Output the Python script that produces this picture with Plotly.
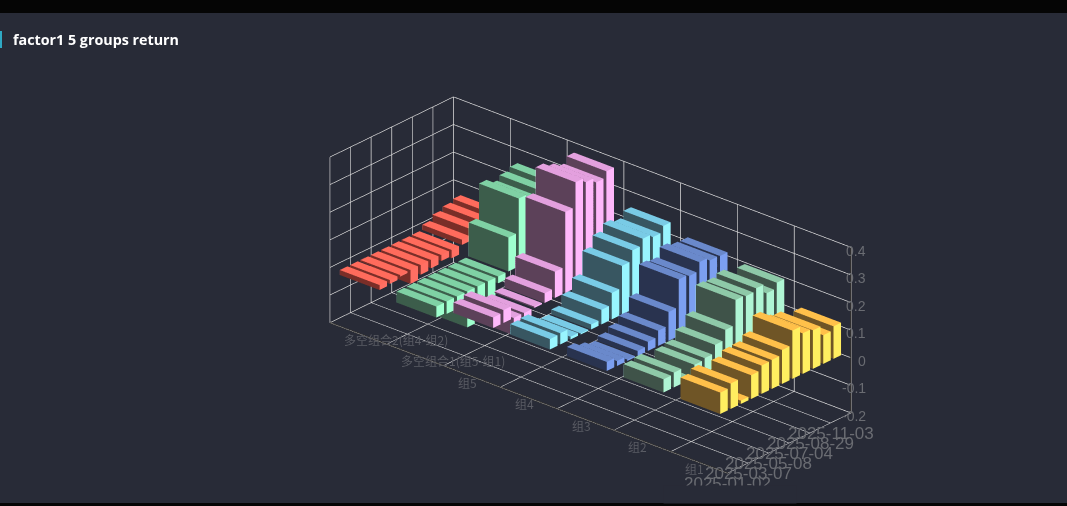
import plotly.graph_objects as go

categories = ["多空组合2(组4-组2)", "多空组合1(组5-组1)", "组5", "组4", "组3", "组2", "组1"]
dates = ["2025-01-02", "2025-02-05", "2025-03-07", "2025-04-08", "2025-05-08", "2025-06-06",
         "2025-07-04", "2025-08-01", "2025-08-29", "2025-09-30", "2025-11-03", "2025-12-01"]
date_labels = ["2025-01-02", "2025-03-07", "2025-05-08", "2025-07-04", "2025-08-29", "2025-11-03"]
z_ticks = [-0.2, -0.1, 0, 0.1, 0.2, 0.3, 0.4]

ls2 = [-0.018, -0.014, -0.006, -0.05, -0.035, -0.03, -0.022, -0.03, 0.019, 0.037, 0.049, 0.058]
ls1 = [-0.04, -0.045, -0.02, -0.13, -0.09, -0.065, -0.025, 0.123, 0.246, 0.225, 0.24, 0.252]
g5 = [0.038, 0.047, -0.02, -0.095, 0.005, 0.035, 0.095, 0.293, 0.383, 0.365, 0.346, 0.368]
g4 = [0.038, 0.041, 0.01, 0.004, 0.018, 0.053, 0.096, 0.176, 0.214, 0.238, 0.226, 0.248]
g3 = [0.033, 0.018, 0.005, 0.018, 0.033, 0.055, 0.105, 0.205, 0.199, 0.231, 0.219, 0.217]
g2 = [0.048, 0.054, 0.008, 0.046, 0.052, 0.082, 0.118, 0.208, 0.204, 0.214, 0.178, 0.198]
g1 = [0.0775, 0.092, 0.012, 0.086, 0.103, 0.105, 0.123, 0.175, 0.147, 0.14, 0.104, 0.118]
series = [ls2, ls1, g5, g4, g3, g2, g1]

# top, large face, side face
palette = [
    ("#FF6B5C", "#7A2E28", "#FF6F63"),
    ("#7FD1A4", "#3C5D4B", "#9FFFCE"),
    ("#E3A0DE", "#5C4159", "#FFB8FB"),
    ("#79CBE6", "#385661", "#98F5FF"),
    ("#6A89CB", "#29334F", "#7C9FF0"),
    ("#8EC9A8", "#3F5349", "#AFF5D4"),
    ("#FFC04A", "#6F5526", "#FFEE60"),
]

BG = "#282B37"
HALF = 0.35
HALF_Y = 0.37
ZOOM = 2.398
X_RANGE = [-0.5, 6.5]
Y_RANGE = [-0.5, 11.5]
Z_RANGE = [-0.2, 0.4]


def bars(i, values, cols):
    xs, ys, zs, a, b, c, fc = [], [], [], [], [], [], []
    top, front, side = cols
    for j, v in enumerate(values):
        n = len(xs)
        z0, z1 = min(0, v), max(0, v)
        for zz in (z0, z1):
            for dx, dy in ((-HALF, -HALF_Y), (HALF, -HALF_Y), (HALF, HALF_Y), (-HALF, HALF_Y)):
                xs.append(i + dx)
                ys.append(j + dy)
                zs.append(zz)
        faces = [
            ((4, 5, 6), top), ((4, 6, 7), top),
            ((0, 1, 2), front), ((0, 2, 3), front),
            ((0, 1, 5), front), ((0, 5, 4), front),
            ((2, 3, 7), front), ((2, 7, 6), front),
            ((1, 2, 6), side), ((1, 6, 5), side),
            ((3, 0, 4), side), ((3, 4, 7), side),
        ]
        for (p, q, r), col in faces:
            a.append(n + p)
            b.append(n + q)
            c.append(n + r)
            fc.append(col)
    return go.Mesh3d(x=xs, y=ys, z=zs, i=a, j=b, k=c, facecolor=fc, flatshading=True,
                     lighting=dict(ambient=1, diffuse=0, specular=0, fresnel=0, roughness=1),
                     hoverinfo="skip", showscale=False)


fig = go.Figure([bars(i, s, palette[i]) for i, s in enumerate(series)])
fig.add_trace(go.Scatter3d(
    x=[X_RANGE[0], X_RANGE[1], X_RANGE[1], X_RANGE[1]],
    y=[Y_RANGE[0], Y_RANGE[0], Y_RANGE[1], Y_RANGE[1]],
    z=[Z_RANGE[0], Z_RANGE[0], Z_RANGE[0], Z_RANGE[1]],
    mode="lines", line=dict(color="#33322F", width=3), hoverinfo="skip"))

annotations3d = []
for i, name in enumerate(categories):
    annotations3d.append(dict(x=i, y=-0.5, z=-0.2, text=name, showarrow=False, xanchor="left",
                              yanchor="middle", xshift=-16, yshift=-6,
                              font=dict(family="Noto Sans CJK SC", size=12, color="#5A5C64")))
for k, label in enumerate(date_labels):
    annotations3d.append(dict(x=6.5, y=dates.index(label), z=-0.2, text=label, showarrow=False,
                              xanchor="center", yanchor="middle", xshift=-5, yshift=-13,
                              font=dict(family="Liberation Sans", size=17, color="#6A6C72")))
for t in z_ticks:
    annotations3d.append(dict(x=6.5, y=11.5, z=t, text=f"{t:g}", showarrow=False, xanchor="right",
                              yanchor="middle", xshift=17, yshift=-3,
                              font=dict(family="Liberation Sans", size=14, color="#6A6C72")))
# the lowest date label is cut off in the reference
annotations3d.append(dict(x=6.5, y=-0.5, z=-0.2, text=" ", showarrow=False, xanchor="center", yanchor="top",
                          xshift=2, yshift=-12, width=130, height=15, bgcolor=BG))


def axis(vals, rng):
    return dict(range=rng, tickmode="array", tickvals=vals, showticklabels=False, ticks="",
                title=dict(text=""), showgrid=True, gridcolor="#DEDEDE", gridwidth=1.5,
                showbackground=False, showline=False,
                zeroline=False, showspikes=False)


fig.update_layout(
    width=1067, height=506, margin=dict(l=0, r=0, t=0, b=0), autosize=False,
    paper_bgcolor=BG, plot_bgcolor=BG, showlegend=False,
    shapes=[
        dict(type="rect", xref="paper", yref="paper", x0=0, x1=1, y0=1 - 13 / 506, y1=1,
             fillcolor="#050505", line_width=0, layer="below"),
        dict(type="rect", xref="paper", yref="paper", x0=0, x1=1, y0=0, y1=3 / 506,
             fillcolor="#050505", line_width=0, layer="below"),
        dict(type="rect", xref="paper", yref="paper", x0=0, x1=2 / 1067, y0=1 - 48 / 506, y1=1 - 31 / 506,
             fillcolor="#2FA9C4", line_width=0, layer="below"),
    ],
    annotations=[dict(xref="paper", yref="paper", x=10.5 / 1067, y=1 - 40 / 506, xanchor="left", yanchor="middle",
                      text="<b>factor1 5 groups return</b>", showarrow=False,
                      font=dict(family="Open Sans", size=14.3, color="#FFFFFF"))],
    scene=dict(
        domain=dict(x=[0.107, 1.0], y=[0.0, 0.873]),
        aspectmode="manual", aspectratio=dict(x=ZOOM * 1, y=ZOOM * 0.3525, z=ZOOM * 0.346),
        camera=dict(projection=dict(type="orthographic"), up=dict(x=0, y=0, z=1),
                    center=dict(x=0, y=0, z=0), eye=dict(x=0.597, y=-0.677, z=0.429)),
        bgcolor="rgba(0,0,0,0)",
        xaxis=axis([k - 0.5 for k in range(8)], X_RANGE),
        yaxis=axis([k - 0.5 for k in range(0, 13, 2)], Y_RANGE),
        zaxis=axis(z_ticks, Z_RANGE),
        annotations=annotations3d,
    ),
)
fig.write_html("out.html", config={"displayModeBar": False},
               post_script="document.body.style.margin='0';document.body.style.background='#282B37';")
